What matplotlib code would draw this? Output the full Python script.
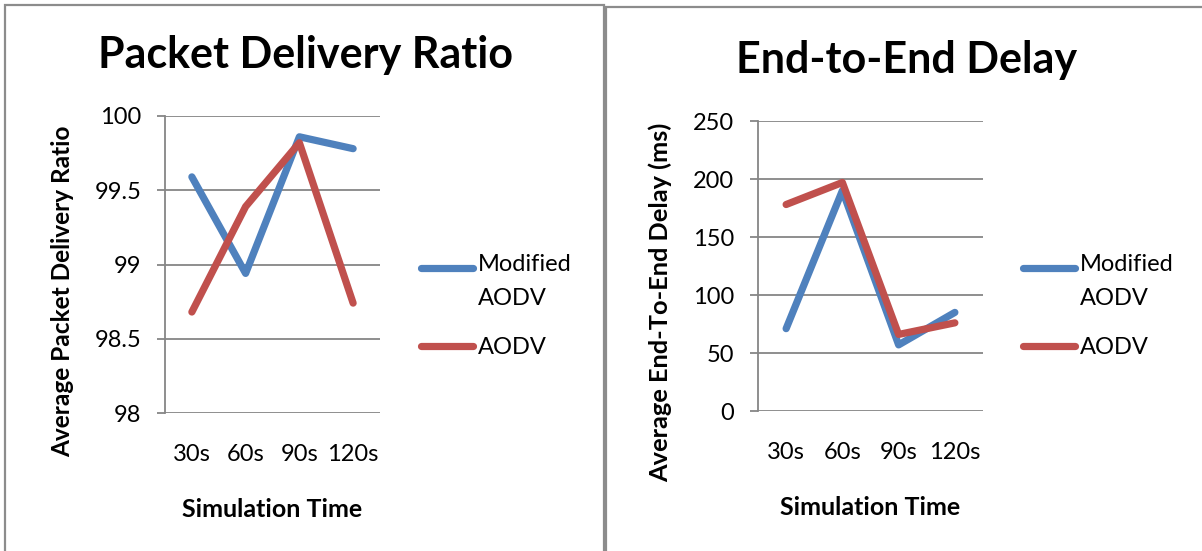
import matplotlib
matplotlib.use('Agg')
import matplotlib.pyplot as plt
from matplotlib.patches import Rectangle

plt.rcParams['font.family'] = ['Lato', 'DejaVu Sans']

times = ['30s', '60s', '90s', '120s']
pdr_modified = [99.59, 98.94, 99.86, 99.78]
pdr_aodv = [98.68, 99.39, 99.82, 98.74]
delay_modified = [71, 190, 57, 85]
delay_aodv = [178, 197, 66, 76]
labels = ['Modified\nAODV', 'AODV']

BLUE = '#4F81BD'
RED = '#C0504D'
GRID = '#868686'

fig = plt.figure(figsize=(12.02, 5.51), dpi=100)

# panel frames
W, H = 1202, 551
fig.add_artist(Rectangle((5 / W, -0.1), 599 / W, 1.1 - 5 / H, transform=fig.transFigure,
                         fill=False, ec='#8c8c8c', lw=1.6))
fig.add_artist(Rectangle((606 / W, -0.1), 0.5, 1.1 - 7 / H, transform=fig.transFigure,
                         fill=False, ec='#8c8c8c', lw=1.6))


def draw(rect, ys, ylim, yticks, title, ylabel, ylab_size, ylab_y, title_xy, leg_xy):
    ax = fig.add_axes(rect)
    x = range(len(times))
    ax.plot(x, ys[0], color=BLUE, lw=5.2, solid_capstyle='round', solid_joinstyle='round',
            label=labels[0], zorder=3)
    ax.plot(x, ys[1], color=RED, lw=5.2, solid_capstyle='round', solid_joinstyle='round',
            label=labels[1], zorder=4)
    ax.set_xlim(-0.5, len(times) - 0.5)
    ax.set_ylim(*ylim)
    ax.set_yticks(yticks)
    ax.set_yticklabels([f'{t:g}' for t in yticks])
    ax.set_xticks(list(x))
    ax.set_xticklabels(times)
    ax.grid(axis='y', color=GRID, lw=1.3)
    ax.set_axisbelow(True)
    for s in ['top', 'right', 'bottom']:
        ax.spines[s].set_visible(False)
    ax.spines['left'].set_color(GRID)
    ax.spines['left'].set_linewidth(1.3)
    ax.tick_params(axis='y', length=6, width=1.3, color=GRID, labelsize=17, pad=11)
    ax.tick_params(axis='x', length=0, labelsize=17, pad=22)
    ax.set_xlabel('Simulation Time', fontsize=18, fontweight='bold', labelpad=24)
    ax.set_ylabel(ylabel, fontsize=ylab_size, fontweight='bold', labelpad=15)
    ax.yaxis.label.set_y(ylab_y)
    fig.text(title_xy[0], title_xy[1], title, fontsize=31, fontweight='bold',
             ha='center', va='center')
    leg = ax.legend(loc='center left', bbox_to_anchor=leg_xy, bbox_transform=fig.transFigure,
                    frameon=False, fontsize=17, handlelength=2.2, handletextpad=0.2,
                    borderaxespad=0, borderpad=0, labelspacing=1.2)
    leg.get_texts()[0].set_linespacing(1.8)
    return ax, leg


ax1, leg1 = draw([165 / W, 1 - 413 / H, 215 / W, 297 / H], [pdr_modified, pdr_aodv],
                 (98, 100), [98, 98.5, 99, 99.5, 100], 'Packet Delivery Ratio',
                 'Average Packet Delivery Ratio', 17.6, 0.41,
                 (306 / W, 1 - 55 / H), (421 / W, 1 - 306 / H))
ax2, leg2 = draw([758 / W, 1 - 411 / H, 225 / W, 290 / H], [delay_modified, delay_aodv],
                 (0, 250), [0, 50, 100, 150, 200, 250], 'End-to-End Delay',
                 'Average End-To-End Delay (ms)', 18.3, 0.374,
                 (907 / W, 1 - 60 / H), (1023 / W, 1 - 306 / H))

# move the first legend line up to the first text line
fig.canvas.draw()
for leg in (leg1, leg2):
    t = leg.get_texts()[0]
    bb = t.get_window_extent()
    shift = bb.height / 4 * 72 / fig.dpi
    ln = leg.get_lines()[0]
    ln.set_ydata([v + shift for v in ln.get_ydata()])

fig.savefig('out.png', dpi=100)
